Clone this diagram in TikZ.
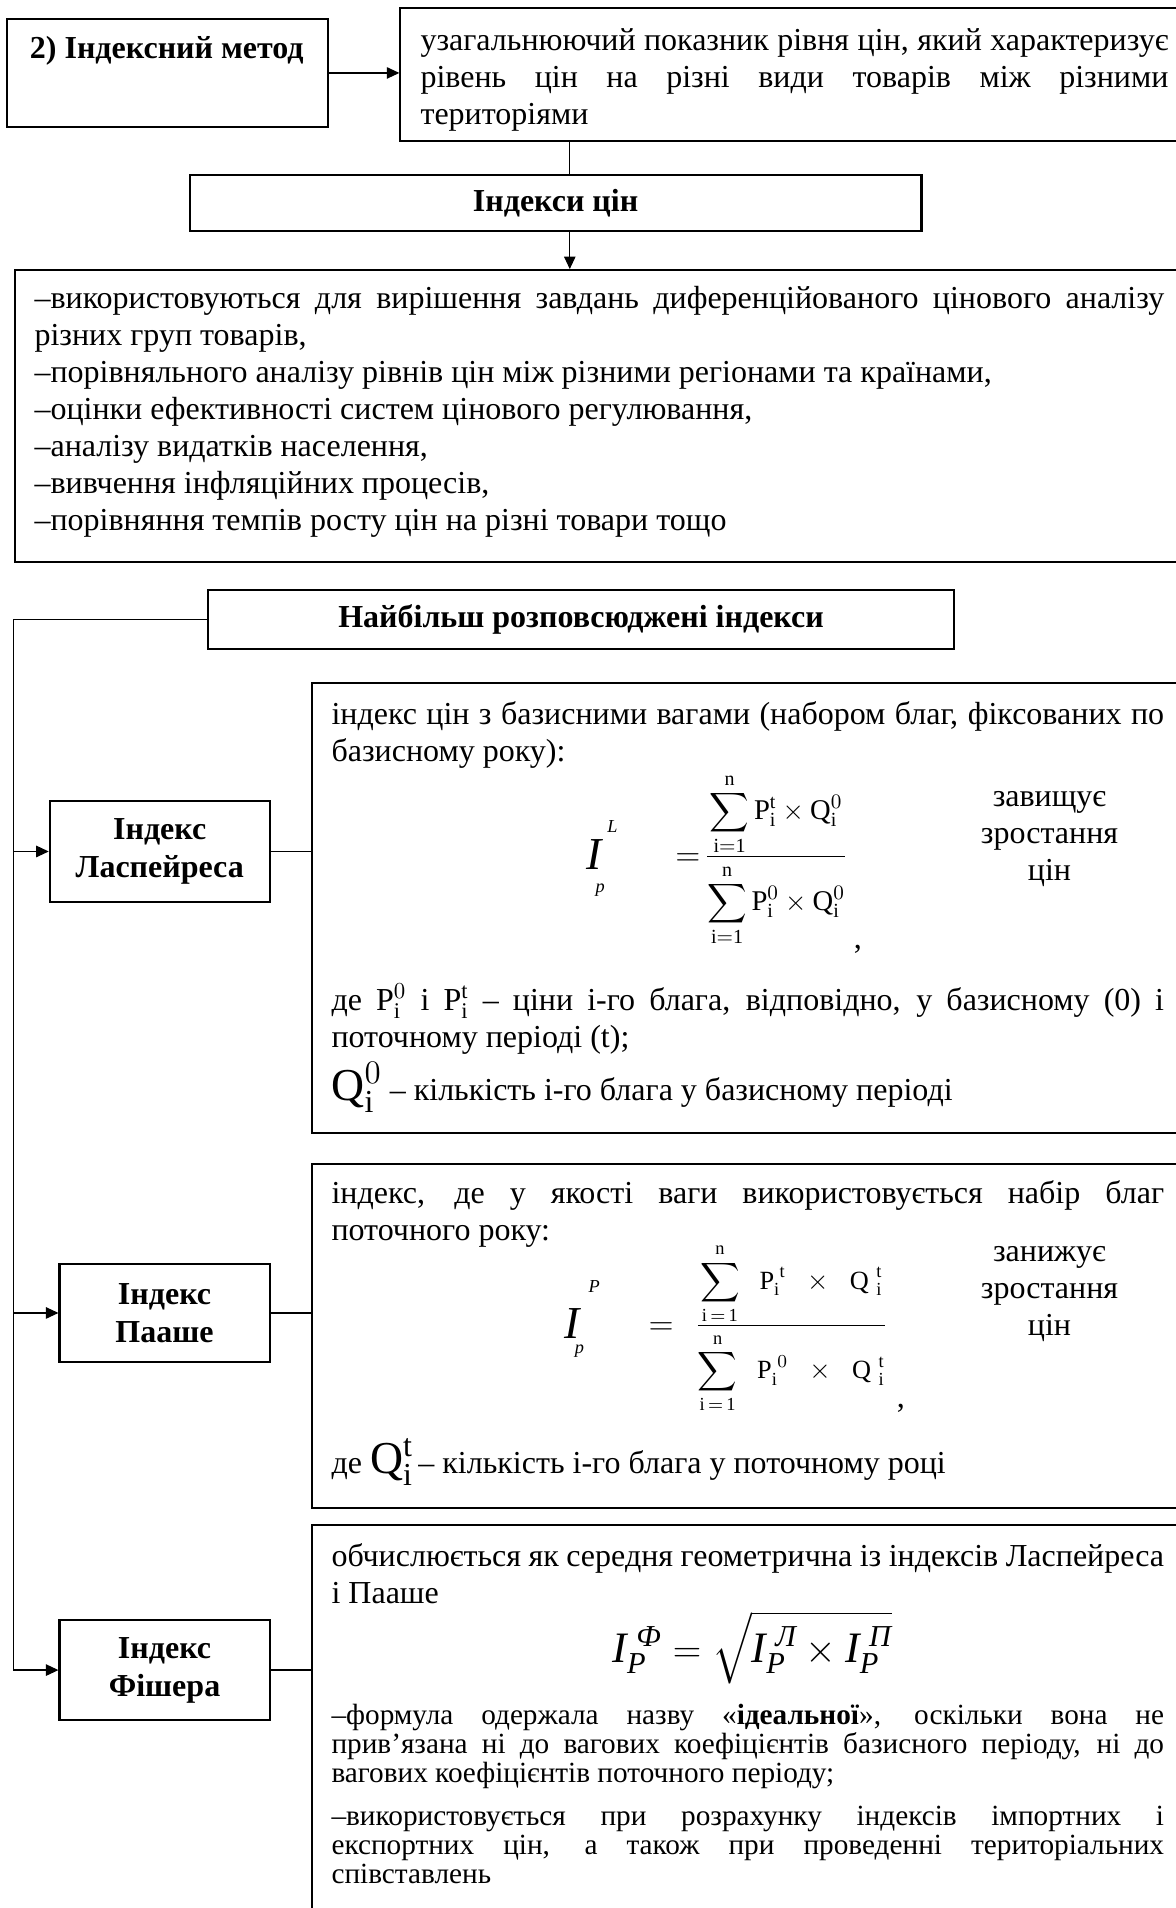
\documentclass[tikz,border=0pt]{standalone}
\usepackage{amsmath}
\usepackage{fontspec}
\setmainfont{Liberation Serif}
\usetikzlibrary{arrows.meta, positioning}

% чисельник і знаменник з невеликим відступом від риски дробу
\newcommand{\fracnum}[1]{\raisebox{0pt}[\height][\dimexpr\depth+2.5pt\relax]{$\displaystyle #1$}}
\newcommand{\fracden}[1]{\raisebox{0pt}[\dimexpr\height+2.5pt\relax][\depth]{$\displaystyle #1$}}

\tikzset{
  boxline/.style={draw, line width=0.9pt, inner sep=0pt, anchor=north west},
  head/.style={boxline, align=center, font=\fontsize{14}{16.5}\selectfont\bfseries},
  body/.style={anchor=north west, inner sep=0pt, align=justify, text width=12.8cm},
  piece/.style={inner sep=0pt},
  link/.style={line width=0.6pt},
  arr/.style={link, -{Triangle[length=5.5pt, width=5pt]}},
}

\begin{document}
\begin{tikzpicture}[font=\fontsize{14}{16.2}\selectfont]
  \useasboundingbox (0,0) rectangle (18.08,-29.334);

  % верхній рядок: метод і його визначення
  \node[boxline, minimum width=4.94cm, minimum height=1.65cm] (method) at (0.094,-0.281) {};
  \node[font=\fontsize{14}{16}\selectfont\bfseries] (methodtxt) at (2.564,-0.786) {2) Індексний метод};
  \node[boxline, minimum width=12.2cm, minimum height=2.04cm] (def) at (6.14,-0.112) {};
  \node[body, text width=11.5cm] (deftxt) at (6.458,-0.43)
    {узагальнюючий показник рівня цін, який характеризує\linebreak
     рівень цін на різні види товарів між різними\linebreak територіями};
  \draw[arr] (method.east) -- (method.east -| def.west);

  % індекси цін і їх застосування
  \coordinate (tap) at (8.76,0);
  \node[head, minimum width=11.25cm, minimum height=0.86cm] (prices) at (2.901,-2.677) {Індекси цін};
  \draw[link] (tap |- def.south) -- (tap |- prices.north);
  \node[boxline, minimum width=18.3cm, minimum height=4.49cm] (uses) at (0.21,-4.137) {};
  \draw[arr] (tap |- prices.south) -- (tap |- uses.north);
  \node[body, text width=17.37cm] (usestxt) at (0.524,-4.399)
    {–використовуються для вирішення завдань диференційованого цінового аналізу\linebreak
     різних груп товарів,\par
     –порівняльного аналізу рівнів цін між різними регіонами та країнами,\par
     –оцінки ефективності систем цінового регулювання,\par
     –аналізу видатків населення,\par
     –вивчення інфляційних процесів,\par
     –порівняння темпів росту цін на різні товари тощо};

  % найбільш поширені індекси
  \coordinate (rail) at (0.21,0);
  \node[head, minimum width=11.47cm, minimum height=0.9cm] (most) at (3.182,-9.06) {Найбільш розповсюджені індекси};
  \node[head, minimum width=3.38cm, minimum height=1.55cm] (las) at (0.75,-12.30) {Індекс\\Ласпейреса};
  \node[head, minimum width=3.23cm, minimum height=1.52cm] (paa) at (0.899,-19.41) {Індекс\\Пааше};
  \node[head, minimum width=3.23cm, minimum height=1.53cm] (fis) at (0.899,-24.895) {Індекс\\Фішера};
  \draw[arr] (most.west) -- (rail |- most.west) -- (rail |- fis.west) -- (fis.west);
  \draw[arr] (rail |- las.west) -- (las.west);
  \draw[arr] (rail |- paa.west) -- (paa.west);

  \node[boxline, minimum width=13.5cm, minimum height=6.93cm] (lasbox) at (4.78,-10.48) {};
  \node[boxline, minimum width=13.5cm, minimum height=5.294cm] (paabox) at (4.78,-17.876) {};
  \node[boxline, minimum width=13.5cm, minimum height=6.2cm] (fisbox) at (4.78,-23.43) {};
  \draw[link] (las.east) -- (las.east -| lasbox.west);
  \draw[link] (paa.east) -- (paa.east -| paabox.west);
  \draw[link] (fis.east) -- (fis.east -| fisbox.west);

  % Ласпейрес
  \node[body] (lastxt) at (5.09,-10.78)
    {індекс цін з базисними вагами (набором благ, фіксованих по\linebreak базисному року):};
  \node[piece] (lasI) at (9.153,-13.14) {\fontsize{20}{20}\selectfont\textit{I}};
  \node[piece] (lasL) at (9.415,-12.709) {\fontsize{8}{8}\selectfont\textit{L}};
  \node[piece] (lasp) at (9.228,-13.683) {\fontsize{8}{8}\selectfont\textit{p}};
  \node[piece] (laseq) at (10.576,-13.215) {$=$};
  \node[piece, font=\fontsize{12.5}{15}\selectfont] (lasfrac) at (11.933,-13.215)
    {$\frac{\fracnum{\sum_{\mathrm{i=1}}^{\mathrm{n}}\mathrm{P}_{\mathrm{i}}^{\mathrm{t}}\times\mathrm{Q}_{\mathrm{i}}^{0}}}
           {\fracden{\sum_{\mathrm{i=1}}^{\mathrm{n}}\mathrm{P}_{\mathrm{i}}^{0}\times\mathrm{Q}_{\mathrm{i}}^{0}}}$};
  \node[piece] (lascomma) at (13.187,-14.60) {,};
  \node[align=center] (lasup) at (16.135,-12.897) {завищує\\зростання\\цін};
  \node[body] (lasnote) at (5.09,-15.12)
    {де $\mathrm{P}_{\mathrm{i}}^{0}$ і $\mathrm{P}_{\mathrm{i}}^{\mathrm{t}}$ – ціни і-го блага, відповідно, у базисному (0) і\linebreak
     поточному періоді (t);};
  \node[anchor=base west, inner sep=0pt] (lasq) at (5.09,-16.92)
    {{\fontsize{20}{20}\selectfont$\mathrm{Q}_{\mathrm{i}}^{0}$}\ – кількість і-го блага у базисному періоді};

  % Пааше
  \node[body] (paatxt) at (5.09,-18.14)
    {індекс, де у якості ваги використовується набір благ\linebreak поточного року:};
  \node[piece] (paaI) at (8.816,-20.347) {\fontsize{20}{20}\selectfont\textit{I}};
  \node[piece] (paaP) at (9.134,-19.785) {\fontsize{8}{8}\selectfont\textit{P}};
  \node[piece] (paap) at (8.910,-20.777) {\fontsize{8}{8}\selectfont\textit{p}};
  \node[piece] (paaeq) at (10.164,-20.421) {$=$};
  \node[piece, font=\fontsize{11.5}{14}\selectfont] (paafrac) at (12.167,-20.421)
    {$\frac{\fracnum{\sum_{\mathrm{i\,=\,1}}^{\mathrm{n}}\;\;\mathrm{P}_{\mathrm{i}}^{\;\mathrm{t}}\;\;\times\;\;\mathrm{Q}\;{}_{\mathrm{i}}^{\mathrm{t}}}}
           {\fracden{\sum_{\mathrm{i\,=\,1}}^{\mathrm{n}}\;\;\mathrm{P}_{\mathrm{i}}^{\;0}\;\;\times\;\;\mathrm{Q}\;{}_{\mathrm{i}}^{\mathrm{t}}}}$};
  \node[piece] (paacomma) at (13.851,-21.657) {,};
  \node[align=center] (paadown) at (16.135,-19.897) {занижує\\зростання\\цін};
  \node[anchor=base west, inner sep=0pt] (paaq) at (5.09,-22.65)
    {де {\fontsize{20}{20}\selectfont$\mathrm{Q}_{\mathrm{i}}^{\mathrm{t}}$}\,– кількість і-го блага у поточному році};

  % Фішер
  \node[body] (fistxt) at (5.09,-23.73)
    {обчислюється як середня геометрична із індексів Ласпейреса\linebreak і Пааше};
  \node[piece] (fisform) at (11.568,-25.33)
    {\fontsize{19}{19}\selectfont$\textit{I}_{\textit{P}}^{\;\textit{Ф}}=\sqrt{\textit{I}_{\textit{P}}^{\;\textit{Л}}\times\textit{I}_{\textit{P}}^{\;\textit{П}}}$};
  \node[body, font=\fontsize{12.8}{12.7}\selectfont] (fisnote) at (5.09,-26.2)
    {–формула одержала назву «\textbf{ідеальної}», оскільки вона не\linebreak
     прив’язана ні до вагових коефіцієнтів базисного періоду, ні до\linebreak
     вагових коефіцієнтів поточного періоду;\par\vspace{6pt}
     –використовується при розрахунку індексів імпортних і\linebreak
     експортних цін, а також при проведенні територіальних\linebreak
     співставлень};
\end{tikzpicture}
\end{document}
